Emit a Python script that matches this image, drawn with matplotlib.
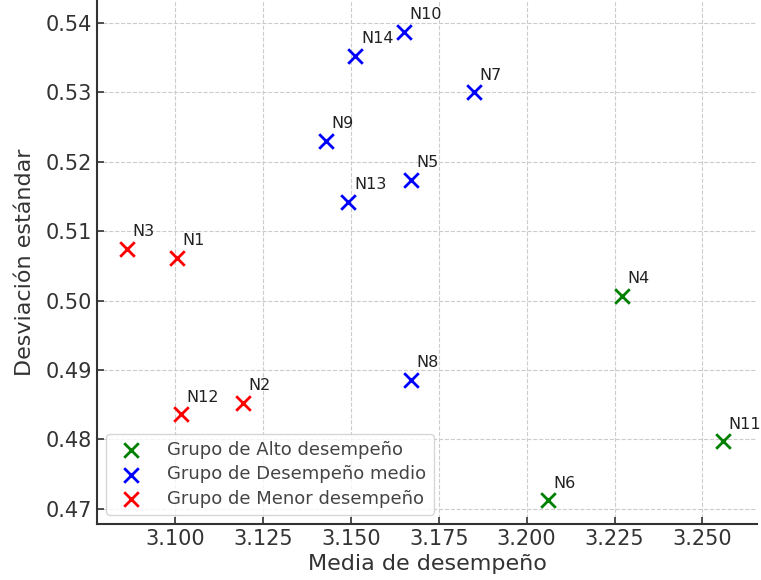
import matplotlib.pyplot as plt

# ---- data ----
alto_names = ["N4", "N6", "N11"]
alto_media = [3.2270, 3.2060, 3.2557]
alto_desv = [0.5007, 0.4712, 0.4797]

medio_names = ["N5", "N7", "N8", "N9", "N10", "N13", "N14"]
medio_media = [3.1670, 3.1850, 3.1670, 3.1429, 3.1650, 3.1493, 3.1513]
medio_desv = [0.5174, 0.5300, 0.4886, 0.5230, 0.5387, 0.5142, 0.5353]

menor_names = ["N1", "N2", "N3", "N12"]
menor_media = [3.1006, 3.1193, 3.0863, 3.1017]
menor_desv = [0.5061, 0.4853, 0.5074, 0.4836]

x_ticks = [3.100, 3.125, 3.150, 3.175, 3.200, 3.225, 3.250]
y_ticks = [0.47, 0.48, 0.49, 0.50, 0.51, 0.52, 0.53, 0.54]

fig = plt.figure(figsize=(7.61, 5.8), dpi=100)
ax = fig.add_axes([97 / 761, 56 / 580, (757 - 97) / 761, (580 - 56) / 580])

groups = [
    (alto_names, alto_media, alto_desv, "green", "Grupo de Alto desempeño"),
    (medio_names, medio_media, medio_desv, "blue", "Grupo de Desempeño medio"),
    (menor_names, menor_media, menor_desv, "red", "Grupo de Menor desempeño"),
]
for names, xs, ys, col, lab in groups:
    ax.scatter(xs, ys, color=col, marker="x", s=110, linewidths=2, label=lab, zorder=3)
    for n, x, y in zip(names, xs, ys):
        ax.annotate(n, (x, y), xytext=(4, 7), textcoords="offset points",
                    fontsize=11.5, color="#222222", ha="left", va="bottom",
                    annotation_clip=False)

ax.set_xlim(3.0778, 3.2655)
ax.set_ylim(0.4678, 0.5433)
ax.set_xticks(x_ticks)
ax.set_xticklabels([f"{v:.3f}" for v in x_ticks])
ax.set_yticks(y_ticks)
ax.set_yticklabels([f"{v:.2f}" for v in y_ticks])
ax.tick_params(direction="in", labelsize=15, colors="#333333", length=5, width=1.2)
ax.set_xlabel("Media de desempeño", fontsize=16, color="#333333", labelpad=4)
ax.set_ylabel("Desviación estándar", fontsize=16, color="#333333", labelpad=8)
ax.grid(True, linestyle="--", linewidth=0.8, color="#cccccc")
for side in ["top", "right"]:
    ax.spines[side].set_visible(False)
for side in ["left", "bottom"]:
    ax.spines[side].set_linewidth(1.5)
    ax.spines[side].set_color("#333333")

leg = ax.legend(loc="lower left", fontsize=13, borderpad=0.4, handletextpad=1.0,
                labelspacing=0.35, borderaxespad=0.5)
for t in leg.get_texts():
    t.set_color("#444444")

fig.savefig("out.png", dpi=100)
